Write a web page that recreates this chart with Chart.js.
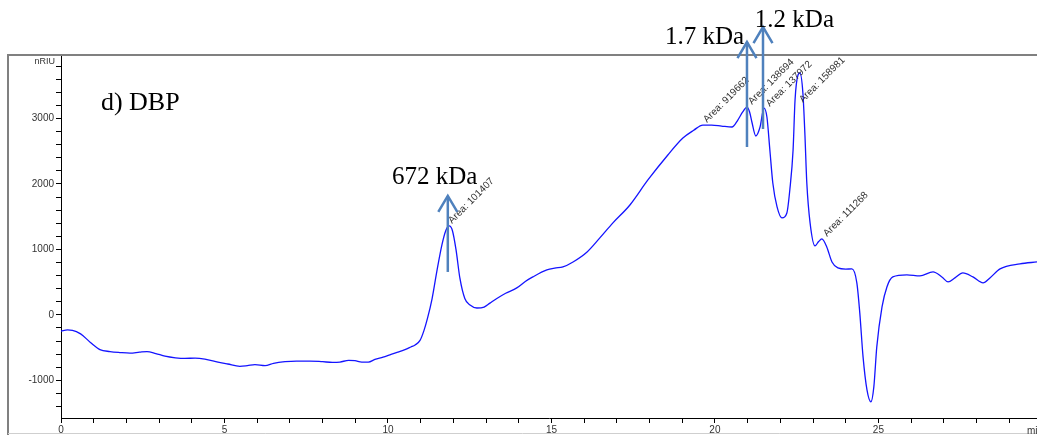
<!DOCTYPE html>
<html>
<head>
<meta charset="utf-8">
<script src="https://cdn.jsdelivr.net/npm/chart.js@4.4.1/dist/chart.umd.min.js"></script>
<style>
  html, body { margin: 0; padding: 0; background: #fff; }
  #wrap { width: 1037px; height: 435px; }
</style>
</head>
<body>
<div id="wrap"><canvas id="c" width="1037" height="435"></canvas></div>
<script>
// Retention time (min) of each sampled point of the RI trace
const retentionTime = [
  0.00, 0.20, 0.35, 0.60, 0.90, 1.19, 1.50, 1.80, 2.11, 2.40, 2.63, 2.90, 3.18, 3.50, 3.79,
  4.10, 4.40, 4.80, 5.10, 5.47, 5.70, 5.93, 6.24, 6.50, 6.85, 7.20, 7.61, 8.00, 8.30, 8.53,
  8.80, 8.99, 9.20, 9.40, 9.60, 9.85, 10.06, 10.30, 10.52, 10.70, 10.83, 10.98, 11.10, 11.21,
  11.35, 11.50, 11.65, 11.77, 11.87, 11.97, 12.08, 12.20, 12.35, 12.51, 12.72, 12.94, 13.12,
  13.33, 13.60, 13.94, 14.20, 14.43, 14.86, 15.10, 15.35, 15.66, 16.09, 16.48, 16.88, 17.40,
  17.95, 18.56, 19.02, 19.35, 19.63, 19.90, 20.20, 20.52, 20.70, 20.85, 20.98, 21.06, 21.13,
  21.25, 21.38, 21.50, 21.59, 21.68, 21.77, 21.90, 22.05, 22.20, 22.29, 22.39, 22.45, 22.54,
  22.60, 22.69, 22.75, 22.81, 22.91, 23.06, 23.17, 23.27, 23.42, 23.58, 23.76, 24.00, 24.19,
  24.34, 24.43, 24.53, 24.65, 24.77, 24.86, 24.95, 25.11, 25.26, 25.44, 25.87, 26.27, 26.67,
  26.94, 27.13, 27.34, 27.58, 27.89, 28.20, 28.41, 28.72, 29.33, 29.85
];
// Refractive index signal (nRIU)
const signal = [
  -250, -230, -235, -290, -420, -530, -560, -575, -585, -570, -560, -590, -630, -655, -665,
  -660, -675, -720, -750, -785, -775, -760, -775, -740, -715, -705, -705, -715, -725, -720,
  -695, -700, -720, -720, -680, -645, -610, -570, -530, -490, -460, -390, -240, -50,
  250, 680, 1070, 1290, 1360, 1290, 1000, 560, 250, 150, 105, 120, 180,
  250, 330, 412, 510, 580, 687, 715, 733, 809, 962, 1176, 1405, 1679,
  2061, 2443, 2702, 2820, 2900, 2900, 2885, 2870, 2977, 3100, 3175, 3100, 2947,
  2733, 2870, 3160, 3023, 2519, 2015, 1649, 1481, 1557, 1908, 2519, 3282, 3664,
  3695, 3389, 2779, 2015, 1405, 1053, 1120, 1160, 1038, 809, 718, 700, 702,
  489, 31, -641, -1145, -1328, -1099, -489, 122, 427, 580, 611, 595, 656,
  580, 504, 565, 641, 580, 489, 565, 702, 779, 809
];

// Integrated peak areas and where their labels start (min, nRIU)
const areaLabels = ['Area: 101407', 'Area: 919662', 'Area: 138694', 'Area: 137972', 'Area: 158981', 'Area: 111268'];
const areaLabelTime = [11.96, 19.76, 21.13, 21.68, 22.69, 23.43];
const areaLabelSignal = [1389, 2931, 3206, 3176, 3237, 1191];

// Molecular weight markers: arrow position and caption
const markerNames = ['672 kDa', '1.7 kDa', '1.2 kDa'];
const markerTime = [11.83, 20.98, 21.47];
const markerBase = [656, 2565, 2840];
const markerTip = [1817, 4168, 4397];
const markerTextTime = [10.12, 18.47, 21.22];
const markerTextSignal = [2000, 4137, 4397];

const panelTitle = 'd) DBP';
const panelTitleTime = 1.22, panelTitleSignal = 3130;

const xMin = 0, xMax = 29.85;
const yMin = -1575, yMax = 3970;

const points = retentionTime.map((t, i) => ({ x: t, y: signal[i] }));

const framePlugin = {
  id: 'frame',
  beforeDraw(chart) {
    const ctx = chart.ctx;
    ctx.save();
    ctx.fillStyle = '#fff';
    ctx.fillRect(0, 0, chart.width, chart.height);
    ctx.restore();
  },
  afterDraw(chart) {
    const ctx = chart.ctx;
    const area = chart.chartArea;
    ctx.save();
    // outer panel border
    ctx.strokeStyle = '#808080';
    ctx.lineWidth = 2;
    ctx.beginPath();
    ctx.moveTo(8, chart.height);
    ctx.lineTo(8, area.top);
    ctx.lineTo(chart.width, area.top);
    ctx.stroke();
    ctx.strokeStyle = '#cfcfcf';
    ctx.lineWidth = 1;
    ctx.beginPath();
    ctx.moveTo(8, chart.height - 1.5);
    ctx.lineTo(chart.width, chart.height - 1.5);
    ctx.stroke();

    // axis units
    ctx.fillStyle = '#333';
    ctx.font = '9px "Liberation Sans", Arial, sans-serif';
    ctx.textAlign = 'right';
    ctx.textBaseline = 'middle';
    ctx.fillText('nRIU', area.left - 6, area.top + 7);
    ctx.font = '10px "Liberation Sans", Arial, sans-serif';
    ctx.textAlign = 'left';
    ctx.textBaseline = 'top';
    ctx.fillText('min', chart.width - 10, area.bottom + 8);

    const xs = chart.scales.x, ys = chart.scales.y;

    // peak area labels, rotated
    ctx.font = '10px "Liberation Sans", Arial, sans-serif';
    ctx.fillStyle = '#333';
    ctx.textBaseline = 'alphabetic';
    areaLabels.forEach((txt, i) => {
      ctx.save();
      ctx.translate(xs.getPixelForValue(areaLabelTime[i]), ys.getPixelForValue(areaLabelSignal[i]));
      ctx.rotate(-Math.PI / 4);
      ctx.fillText(txt, 0, 0);
      ctx.restore();
    });

    // molecular weight arrows
    ctx.strokeStyle = '#4f81bd';
    ctx.lineWidth = 2.5;
    ctx.lineCap = 'butt';
    markerNames.forEach((name, i) => {
      const x = xs.getPixelForValue(markerTime[i]);
      const yb = ys.getPixelForValue(markerBase[i]);
      const yt = ys.getPixelForValue(markerTip[i]);
      ctx.beginPath();
      ctx.moveTo(x, yb);
      ctx.lineTo(x, yt);
      ctx.stroke();
      ctx.beginPath();
      ctx.moveTo(x - 9.5, yt + 16);
      ctx.lineTo(x, yt);
      ctx.lineTo(x + 9.5, yt + 16);
      ctx.stroke();
    });

    // captions
    ctx.fillStyle = '#000';
    ctx.font = '25px "Liberation Serif", "Times New Roman", serif';
    ctx.textAlign = 'left';
    ctx.textBaseline = 'alphabetic';
    markerNames.forEach((name, i) => {
      ctx.fillText(name, xs.getPixelForValue(markerTextTime[i]), ys.getPixelForValue(markerTextSignal[i]));
    });
    ctx.font = '26px "Liberation Serif", "Times New Roman", serif';
    ctx.fillText(panelTitle, xs.getPixelForValue(panelTitleTime), ys.getPixelForValue(panelTitleSignal));
    ctx.restore();
  }
};

new Chart(document.getElementById('c'), {
  type: 'line',
  data: {
    datasets: [{
      data: points,
      borderColor: '#1414ff',
      borderWidth: 1.3,
      pointRadius: 0,
      fill: false,
      cubicInterpolationMode: 'monotone'
    }]
  },
  options: {
    responsive: false,
    animation: false,
    devicePixelRatio: 1,
    layout: { padding: { top: 55, left: 0, right: 0, bottom: 0 } },
    plugins: { legend: { display: false }, tooltip: { enabled: false } },
    scales: {
      x: {
        type: 'linear',
        min: xMin,
        max: xMax,
        ticks: {
          stepSize: 1,
          includeBounds: false,
          autoSkip: false,
          maxRotation: 0,
          padding: 1,
          color: '#333',
          font: { family: '"Liberation Sans", Arial, sans-serif', size: 10 },
          callback: v => (v % 5 === 0 ? String(v) : '')
        },
        grid: { drawOnChartArea: false, drawTicks: true, tickLength: 5, tickColor: '#000' },
        border: { display: true, color: '#000', width: 1 },
        afterFit: s => { s.height = 17; }
      },
      y: {
        type: 'linear',
        min: yMin,
        max: yMax,
        ticks: {
          stepSize: 200,
          includeBounds: false,
          autoSkip: false,
          padding: 2,
          color: '#333',
          font: { family: '"Liberation Sans", Arial, sans-serif', size: 10 },
          callback: v => (v % 1000 === 0 ? String(v) : '')
        },
        grid: { drawOnChartArea: false, drawTicks: true, tickLength: 5, tickColor: '#000' },
        border: { display: true, color: '#000', width: 1 },
        afterFit: s => { s.width = 61; }
      }
    }
  },
  plugins: [framePlugin]
});
</script>
</body>
</html>
